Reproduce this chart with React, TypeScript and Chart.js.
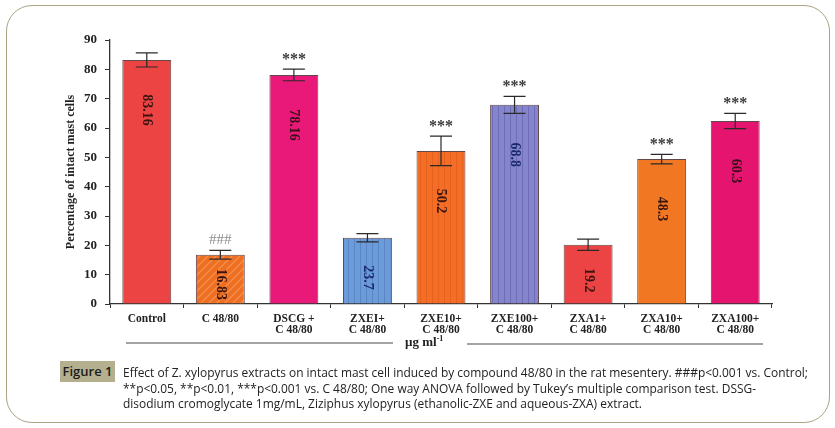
import React, { useEffect, useRef } from "react";
import { Chart, registerables } from "chart.js";

Chart.register(...registerables);

// ---- data ----
const categories: string[][] = [
  ["Control"],
  ["C 48/80"],
  ["DSCG +", "C 48/80"],
  ["ZXEI+", "C 48/80"],
  ["ZXE10+", "C 48/80"],
  ["ZXE100+", "C 48/80"],
  ["ZXA1+", "C 48/80"],
  ["ZXA10+", "C 48/80"],
  ["ZXA100+", "C 48/80"],
];
const means: number[] = [83.2, 16.8, 78.1, 22.6, 52.2, 67.9, 20.2, 49.4, 62.4];
const errors: number[] = [2.4, 1.5, 2.0, 1.4, 5.0, 2.9, 1.9, 1.6, 2.6];
const valueLabels: string[] = ["83.16", "16.83", "78.16", "23.7", "50.2", "68.8", "19.2", "48.3", "60.3"];
const significance: string[] = ["", "###", "***", "", "***", "***", "", "***", "***"];
const yTicks: number[] = [0, 10, 20, 30, 40, 50, 60, 70, 80, 90];

const yTitle = "Percentage of intact mast cells";
const captionLines: string[] = [
  "Effect of Z. xylopyrus extracts on intact mast cell induced by compound 48/80 in the rat mesentery. ###p<0.001 vs. Control;",
  "**p<0.05, **p<0.01, ***p<0.001 vs. C 48/80; One way ANOVA followed by Tukey\u2019s multiple comparison test. DSSG-",
  "disodium cromoglycate 1mg/mL, Ziziphus xylopyrus (ethanolic-ZXE and aqueous-ZXA) extract.",
];

// ---- styles ----
const barStyles: { kind: string; base: string; line: string; text: string }[] = [
  { kind: "solid", base: "#ec4343", line: "", text: "#3a1510" },
  { kind: "diag", base: "#ef6f22", line: "#f48e4c", text: "#3a1510" },
  { kind: "solid", base: "#e9197a", line: "", text: "#3a1018" },
  { kind: "vert", base: "#6b9bd8", line: "#5987c6", text: "#1b2a6e" },
  { kind: "vert", base: "#f46e27", line: "#e5611c", text: "#3a1510" },
  { kind: "vert", base: "#8585cc", line: "#6e6eb8", text: "#1b2a6e" },
  { kind: "solid", base: "#ec4444", line: "", text: "#3a1510" },
  { kind: "solid", base: "#f27722", line: "", text: "#3a1510" },
  { kind: "solid", base: "#e5146f", line: "", text: "#3a1018" },
];

function makeFill(s: { kind: string; base: string; line: string }): any {
  if (s.kind === "solid") return s.base;
  const c = document.createElement("canvas");
  const ctx = c.getContext("2d")!;
  if (s.kind === "diag") {
    c.width = 8;
    c.height = 8;
    ctx.fillStyle = s.base;
    ctx.fillRect(0, 0, 8, 8);
    ctx.strokeStyle = s.line;
    ctx.lineWidth = 1.3;
    ctx.beginPath();
    ctx.moveTo(0, 8);
    ctx.lineTo(8, 0);
    ctx.moveTo(-2, 2);
    ctx.lineTo(2, -2);
    ctx.moveTo(6, 10);
    ctx.lineTo(10, 6);
    ctx.stroke();
  } else {
    c.width = 6;
    c.height = 4;
    ctx.fillStyle = s.base;
    ctx.fillRect(0, 0, 6, 4);
    ctx.fillStyle = s.line;
    ctx.fillRect(0, 0, 1, 4);
  }
  return ctx.createPattern(c, "repeat");
}

const overlayPlugin = {
  id: "overlay",
  afterDatasetsDraw(chart: any) {
    const ctx = chart.ctx;
    const meta = chart.getDatasetMeta(0);
    const y = chart.scales.y;
    const base = y.getPixelForValue(0);
    meta.data.forEach((bar: any, i: number) => {
      const x = bar.x;
      const top = y.getPixelForValue(means[i]);
      const hi = y.getPixelForValue(means[i] + errors[i]);
      const lo = y.getPixelForValue(means[i] - errors[i]);
      ctx.save();
      ctx.strokeStyle = "#2a2a2a";
      ctx.lineWidth = 1.2;
      ctx.beginPath();
      ctx.moveTo(x, hi);
      ctx.lineTo(x, lo);
      ctx.moveTo(x - 11, hi);
      ctx.lineTo(x + 11, hi);
      ctx.moveTo(x - 11, lo);
      ctx.lineTo(x + 11, lo);
      ctx.stroke();
      ctx.restore();

      // value label rotated inside bar
      const cy = top + Math.min(50, (base - top) * 0.6);
      ctx.save();
      ctx.translate(x, cy);
      ctx.rotate(Math.PI / 2);
      ctx.font = "bold 14px 'Liberation Serif', 'Times New Roman', serif";
      ctx.fillStyle = barStyles[i].text;
      ctx.textAlign = "center";
      ctx.textBaseline = "middle";
      ctx.fillText(valueLabels[i], 0, 0);
      ctx.restore();

      // significance marks
      const sig = significance[i];
      if (sig) {
        ctx.save();
        ctx.textAlign = "center";
        ctx.textBaseline = "alphabetic";
        if (sig.startsWith("#")) {
          ctx.font = "15px 'Liberation Serif', serif";
          ctx.fillStyle = "#8c8c8c";
          ctx.fillText(sig, x, hi - 6);
        } else {
          ctx.font = "bold 16px 'Liberation Serif', serif";
          ctx.fillStyle = "#3a3a3a";
          ctx.fillText(sig, x, hi - 5);
        }
        ctx.restore();
      }
    });
  },
};

export default function App() {
  const canvasRef = useRef<HTMLCanvasElement | null>(null);
  const captionRef = useRef<HTMLDivElement | null>(null);
  const firstLineRef = useRef<HTMLSpanElement | null>(null);

  useEffect(() => {
    if (firstLineRef.current && captionRef.current) {
      const w = firstLineRef.current.offsetWidth;
      if (w > 0) captionRef.current.style.transform = `scaleX(${685 / w})`;
    }
    const canvas = canvasRef.current!;
    const chart = new Chart(canvas, {
      type: "bar",
      data: {
        labels: categories,
        datasets: [
          {
            data: means,
            backgroundColor: barStyles.map(makeFill),
            borderColor: "rgba(70,40,40,0.85)",
            borderWidth: 1,
            barPercentage: 0.665,
            categoryPercentage: 1,
          },
        ],
      },
      options: {
        responsive: false,
        animation: false,
        events: [],
        layout: { padding: { left: 0, right: 63, top: 40, bottom: 0 } },
        plugins: { legend: { display: false }, tooltip: { enabled: false } },
        scales: {
          x: {
            offset: true,
            grid: {
              display: true,
              drawOnChartArea: false,
              drawTicks: true,
              tickLength: 4,
              color: "#333",
            },
            border: { display: true, color: "#333", width: 1.3 },
            ticks: {
              color: "#222",
              padding: 5,
              maxRotation: 0,
              autoSkip: false,
              font: { family: "'Liberation Serif', 'Times New Roman', serif", size: 11.5, weight: "bold", lineHeight: 1.0 },
            },
            afterFit(scale: any) {
              scale.height = 56;
            },
          },
          y: {
            min: 0,
            max: 90,
            afterBuildTicks(scale: any) {
              scale.ticks = yTicks.map((v) => ({ value: v }));
            },
            grid: {
              display: true,
              drawOnChartArea: false,
              drawTicks: true,
              tickLength: 5,
              color: "#333",
            },
            border: { display: true, color: "#333", width: 1.3 },
            ticks: {
              color: "#222",
              padding: 8,
              font: { family: "'Liberation Serif', 'Times New Roman', serif", size: 13, weight: "bold" },
            },
            title: {
              display: true,
              text: yTitle,
              color: "#222",
              padding: { top: 64, bottom: 0 },
              font: { family: "'Liberation Serif', 'Times New Roman', serif", size: 12, weight: "bold" },
            },
            afterFit(scale: any) {
              scale.width = 110;
            },
          },
        },
      },
      plugins: [overlayPlugin],
    } as any);
    return () => chart.destroy();
  }, []);

  return (
    <div
      style={{
        position: "absolute",
        left: 0,
        top: 0,
        width: 835,
        height: 428,
        background: "#fff",
        overflow: "hidden",
      }}
    >
      <div
        style={{
          position: "absolute",
          left: 6,
          top: 5,
          width: 824,
          height: 418,
          boxSizing: "border-box",
          border: "1.5px solid #aba483",
          borderRadius: 26,
        }}
      />
      <canvas
        ref={canvasRef}
        width={835}
        height={360}
        style={{ position: "absolute", left: 0, top: 0, width: 835, height: 360 }}
      />
      {/* unit bracket */}
      <div style={{ position: "absolute", left: 126, top: 342, width: 267, height: 2, background: "#a3a3a3" }} />
      <div style={{ position: "absolute", left: 467, top: 343, width: 296, height: 2, background: "#a3a3a3" }} />
      <div
        style={{
          position: "absolute",
          left: 405,
          top: 334,
          fontFamily: "'Liberation Serif', 'Times New Roman', serif",
          fontWeight: "bold",
          fontSize: 13,
          color: "#222",
          whiteSpace: "nowrap",
          lineHeight: "16px",
        }}
      >
        {"\u00b5g ml"}
        <sup style={{ fontSize: 8, verticalAlign: "top", position: "relative", top: -3 }}>-1</sup>
      </div>
      {/* caption */}
      <div
        style={{
          position: "absolute",
          left: 60,
          top: 361,
          width: 55,
          height: 21,
          background: "#b4af8e",
          color: "#1b1b1b",
          fontFamily: "'Open Sans', 'Noto Sans', sans-serif",
          fontWeight: 600,
          fontSize: 13,
          lineHeight: "21px",
          textAlign: "center",
        }}
      >
        Figure 1
      </div>
      <div
        ref={captionRef}
        style={{
          position: "absolute",
          left: 123,
          top: 365,
          fontFamily: "'Open Sans', 'Noto Sans', sans-serif",
          fontSize: 13,
          lineHeight: "15.5px",
          color: "#222",
          transformOrigin: "0 0",
          whiteSpace: "nowrap",
        }}
      >
        {captionLines.map((t, i) => (
          <div key={i}>
            <span ref={i === 0 ? firstLineRef : undefined}>{t}</span>
          </div>
        ))}
      </div>
    </div>
  );
}
